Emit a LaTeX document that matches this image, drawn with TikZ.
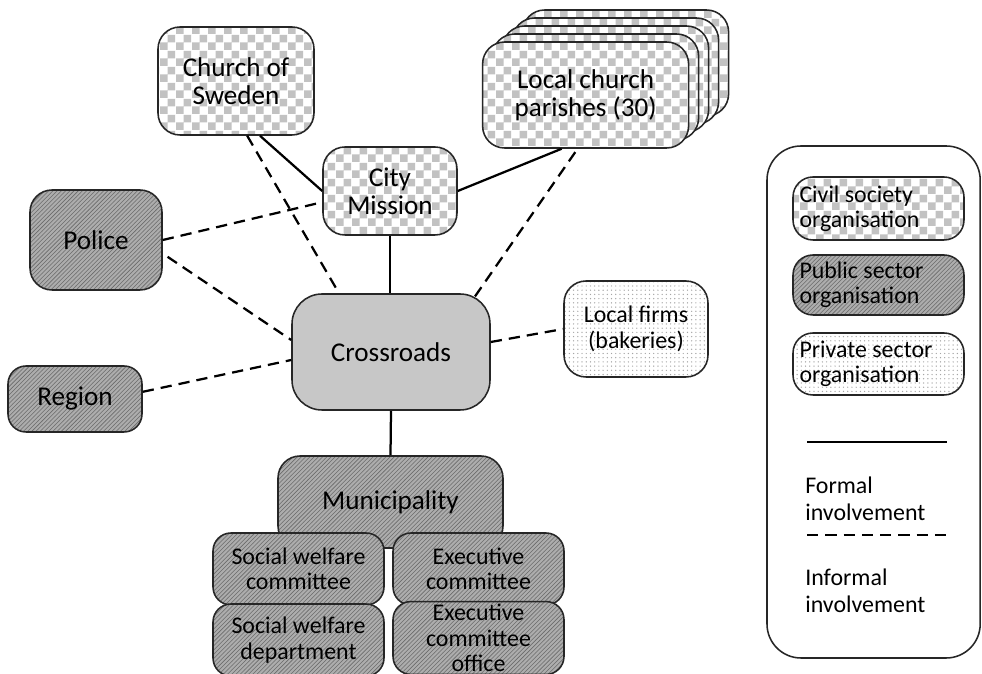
\documentclass[tikz,border=0pt]{standalone}
\usepackage{fontspec}
\setmainfont{Carlito}
\usetikzlibrary{patterns, calc, positioning}

\tikzset{
  org/.style={draw=black!85, line width=1.1pt, rounded corners=0.55cm, align=center,
    inner sep=2pt, font=\fontsize{19.3}{20}\selectfont},
  unit/.style={rounded corners=0.45cm, font=\fontsize{17}{18}\selectfont,
    minimum width=4.275cm, minimum height=1.8cm},
  civil/.style={org, preaction={fill=white}, pattern=checkerboard, pattern color=black!24},
  public/.style={org, preaction={fill=black!32}, pattern=north east lines, pattern color=black!58},
  private/.style={org, preaction={fill=white}, pattern=dots, pattern color=black!35},
  hub/.style={org, fill=black!22},
  keybox/.style={align=flush left, text width=3.95cm, minimum width=4.275cm,
    font=\fontsize{17}{18}\selectfont, rounded corners=0.5cm},
  formal/.style={line width=1.6pt},
  informal/.style={line width=1.6pt, dash pattern=on 8pt off 5pt},
}

\begin{document}
\begin{tikzpicture}
  \useasboundingbox[fill=white] (0,0) rectangle (24.55,16.85);

  % civil society
  \node[civil, minimum width=3.9cm, minimum height=2.7cm] (church) at (5.9,14.825) {Church of\\Sweden};
  \foreach \i in {4,3,2,1}
    \node[civil, minimum width=5.15cm, minimum height=2.65cm] (par\i) at ({14.64+0.25*\i},{14.475+0.2*\i}) {};
  \node[civil, minimum width=5.15cm, minimum height=2.65cm] (par) at (14.64,14.475) {Local church\\parishes (30)};
  \node[civil, minimum width=3.35cm, minimum height=2.2cm] (mission) at (9.75,12.075) {City\\Mission};

  % public sector
  \node[public, minimum width=3.3cm, minimum height=2.5cm] (police) at (2.4,10.85) {Police};
  \node[public, minimum width=3.35cm, minimum height=1.65cm, rounded corners=0.45cm] (region) at (1.875,6.875) {Region};
  \node[public, minimum width=5.625cm, minimum height=2.3cm] (muni) at (9.7625,4.3) {Municipality};
  \node[public, unit] (swc) at (7.4625,2.625) {Social welfare\\committee};
  \node[public, unit] (exc) at (11.9625,2.625) {Executive\\committee};
  \node[public, unit] (swd) at (7.4625,0.85) {Social welfare\\department};
  \node[public, unit] (exo) at (11.9625,0.9) {Executive\\committee\\office};

  % hub and private sector
  \node[hub, minimum width=4.95cm, minimum height=2.9cm, rounded corners=0.75cm] (cross) at (9.775,8.05) {Crossroads};
  \node[private, minimum width=3.6cm, minimum height=2.4cm, font=\fontsize{17}{18}\selectfont] (firms) at (15.9,8.625) {Local firms\\(bakeries)};

  % formal ties
  \draw[formal] ($(church.south)+(0.6,0)$) -- (mission.west);
  \draw[formal] (mission.east) -- ($(par.south)+(-0.6,0)$);
  \draw[formal] (mission.south) -- (cross.north -| mission.south);
  \draw[formal] (cross.south) -- (muni.north);

  % informal ties
  \draw[informal] ($(church.south)+(0.28,0)$) -- ($(cross.north)+(-1.3,0)$);
  \draw[informal] (police.east) -- ($(mission.west)+(0,-0.28)$);
  \draw[informal] ($(police.east)+(0.12,-0.42)$) -- ($(cross.west)+(0,0.3)$);
  \draw[informal] ($(region.east)+(0,0.18)$) -- ($(cross.west)+(0,-0.2)$);
  \draw[informal] ($(cross.north)+(2.1,-0.08)$) -- ($(par.south)+(-0.2,0)$);
  \draw[informal] ($(cross.east)+(0,0.25)$) -- (firms.west);

  % legend
  \node[draw=black!85, line width=1.1pt, rounded corners=0.85cm, minimum width=5.33cm, minimum height=12.8cm] (legend) at (21.84,6.8) {};
  \node[civil, keybox, minimum height=1.575cm] (keycivil) at (21.9625,11.6375) {Civil society\\organisation};
  \node[public, keybox, minimum height=1.5cm] (keypublic) at (21.9625,9.725) {Public sector\\organisation};
  \node[private, keybox, minimum height=1.55cm] (keyprivate) at (21.9625,7.75) {Private sector\\organisation};
  \draw[formal, line width=2pt] (20.175,5.8) -- (23.675,5.8);
  \node[anchor=west, align=left, inner sep=0pt, font=\fontsize{17}{19}\selectfont] (keyformal) at (20.125,4.375) {Formal\\involvement};
  \draw[informal, line width=2pt] (20.175,3.475) -- (23.675,3.475);
  \node[anchor=west, align=left, inner sep=0pt, font=\fontsize{17}{19}\selectfont] (keyinformal) at (20.125,2.075) {Informal\\involvement};
\end{tikzpicture}
\end{document}
